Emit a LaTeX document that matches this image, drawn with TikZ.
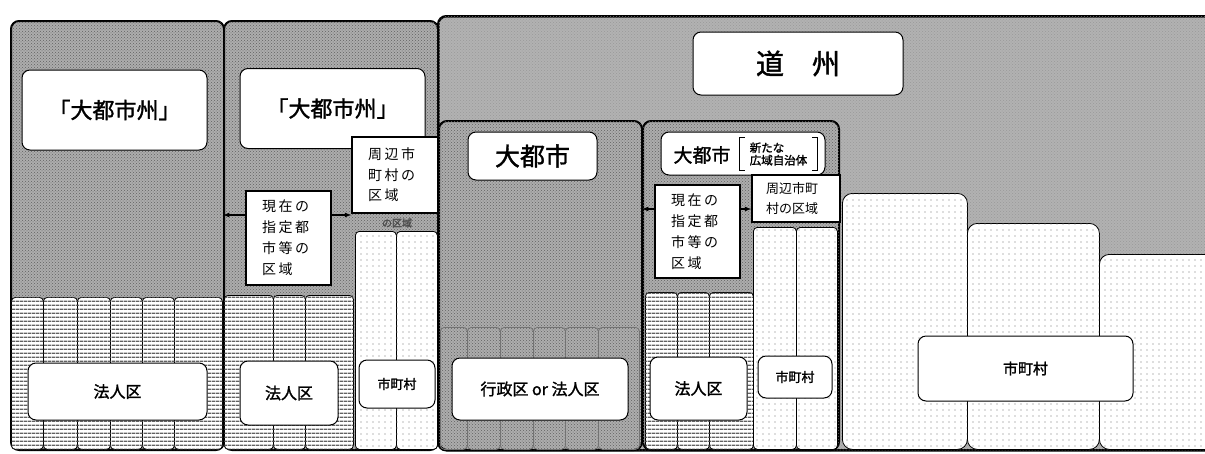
\documentclass[tikz,border=0pt]{standalone}
\usepackage{fontspec}
\newfontfamily\cjk{Noto Sans CJK JP}
\newfontfamily\cjkb[FakeBold=1.5]{Noto Sans CJK JP}
\newfontfamily\cjkl[LetterSpace=18]{Noto Sans CJK JP}
\usetikzlibrary{patterns,positioning,arrows}
\pgfdeclarepatternformonly{sparsedots}{\pgfqpoint{-1pt}{-1pt}}{\pgfqpoint{6pt}{6pt}}{\pgfqpoint{6pt}{6pt}}%
  {\pgfpathcircle{\pgfqpoint{1pt}{1pt}}{.65pt}\pgfusepath{fill}}
\pgfdeclarepatternformonly{hatchlines}{\pgfqpoint{0pt}{0pt}}{\pgfqpoint{4pt}{4pt}}{\pgfqpoint{4pt}{4pt}}%
  {\pgfpathrectangle{\pgfqpoint{0pt}{0pt}}{\pgfqpoint{4pt}{1.8pt}}\pgfusepath{fill}}
\tikzset{
region/.style={
  draw,
  line width=2pt,
  rounded corners=8pt,
  anchor=north west,
  inner sep=0pt},
doshu/.style={region, line width=2.5pt, fill=black!30, postaction={pattern=crosshatch dots, pattern color=black!40}},
toshi/.style={region, fill=black!32, postaction={pattern=crosshatch dots, pattern color=black!62}},
colbox/.style={
  draw,
  line width=.8pt,
  rounded corners=4pt,
  anchor=north west,
  inner sep=0pt,
  fill=white},
hcol/.style={colbox, postaction={pattern=hatchlines, pattern color=black!62}},
dcol/.style={colbox, postaction={pattern=sparsedots, pattern color=black!55}},
gcol/.style={draw=black!55, line width=.8pt, rounded corners=4pt, anchor=north west, inner sep=0pt},
sbox/.style={dcol, rounded corners=10pt},
namebox/.style={
  draw,
  fill=white,
  rounded corners=8pt,
  line width=1pt,
  inner sep=0pt},
notebox/.style={
  draw,
  fill=white,
  line width=1.5pt,
  inner ysep=0pt,
  inner xsep=16pt,
  align=left},
line/.style={draw, -latex, line width=1.2pt}
}
\begin{document}
\begin{tikzpicture}[x=1pt,y=-1pt]
    \useasboundingbox (0,0) rectangle (1205,453);
    \clip (0,0) rectangle (1205,453);
    % regions
    \node [doshu, minimum width=775, minimum height=434] (doshu) at (437,15) {};
    \node [toshi, minimum width=213, minimum height=429] (shu1) at (10,20) {};
    \node [toshi, minimum width=214, minimum height=429] (shu2) at (223,20) {};
    \node [toshi, minimum width=203, minimum height=329] (toshi1) at (438,120) {};
    \node [toshi, minimum width=196, minimum height=329] (toshi2) at (642,120) {};
    % wards and municipalities
    \node [hcol, minimum width=32, minimum height=152] (h1) at (11,297) {};
    \node [hcol, minimum width=34, minimum height=152] (h2) at (43,297) {};
    \node [hcol, minimum width=33, minimum height=152] (h3) at (77,297) {};
    \node [hcol, minimum width=32, minimum height=152] (h4) at (110,297) {};
    \node [hcol, minimum width=32, minimum height=152] (h5) at (142,297) {};
    \node [hcol, minimum width=48, minimum height=152] (h6) at (174,297) {};
    \node [hcol, minimum width=49, minimum height=154] (h7) at (224,295) {};
    \node [hcol, minimum width=32, minimum height=154] (h8) at (273,295) {};
    \node [hcol, minimum width=48, minimum height=154] (h9) at (305,295) {};
    \node [dcol, minimum width=41, minimum height=218] (d1) at (355,231) {};
    \node [dcol, minimum width=41, minimum height=218] (d2) at (396,231) {};
    \node [gcol, minimum width=27, minimum height=122] (g1) at (440,327) {};
    \node [gcol, minimum width=33, minimum height=122] (g2) at (467,327) {};
    \node [gcol, minimum width=33, minimum height=122] (g3) at (500,327) {};
    \node [gcol, minimum width=32, minimum height=122] (g4) at (533,327) {};
    \node [gcol, minimum width=33, minimum height=122] (g5) at (565,327) {};
    \node [gcol, minimum width=41, minimum height=122] (g6) at (598,327) {};
    \node [hcol, minimum width=32, minimum height=157] (h10) at (645,292) {};
    \node [hcol, minimum width=32, minimum height=157] (h11) at (677,292) {};
    \node [hcol, minimum width=44, minimum height=157] (h12) at (709,292) {};
    \node [dcol, minimum width=43, minimum height=222] (d3) at (753,227) {};
    \node [dcol, minimum width=41, minimum height=222] (d4) at (796,227) {};
    \node [sbox, minimum width=125, minimum height=256] (sA) at (842,193) {};
    \node [sbox, minimum width=132, minimum height=226] (sB) at (967,223) {};
    \node [sbox, minimum width=120, minimum height=195] (sC) at (1099,254) {};
    % labels
    \node [namebox, minimum width=210, minimum height=63, font=\cjkb\fontsize{28}{28}\selectfont] (ldoshu) at (798,63.5) {道　州};
    \node [namebox, minimum width=185, minimum height=80, font=\cjkb\fontsize{22}{22}\selectfont] (lshu1) at (114.5,110) {「大都市州」};
    \node [namebox, minimum width=185, minimum height=80, font=\cjkb\fontsize{22}{22}\selectfont] (lshu2) at (332.5,108.5) {「大都市州」};
    \node [namebox, minimum width=129, minimum height=48, font=\cjkb\fontsize{25}{25}\selectfont] (ltoshi1) at (532.5,156) {大都市};
    \node [namebox, minimum width=164, minimum height=43] (ltoshi2) at (743,153.5) {};
    \node [font=\cjkb\fontsize{19}{19}\selectfont] (ltoshi2a) at (702,155) {大都市};
    \node [align=left, inner xsep=4pt, inner ysep=0pt, minimum width=77, minimum height=32, font=\cjkb\fontsize{11.5}{12.5}\selectfont] (shin) at (778.5,154) {新たな\\広域自治体};
    \draw [line width=.8pt] ([xshift=5pt]shin.north west) -- (shin.north west) -- (shin.south west) -- ([xshift=5pt]shin.south west);
    \draw [line width=.8pt] ([xshift=-5pt]shin.north east) -- (shin.north east) -- (shin.south east) -- ([xshift=-5pt]shin.south east);
    \node [font=\cjkb\fontsize{10}{10}\selectfont, text=black!70] (nokuiki) at (397,223) {の区域};
    \node [notebox, minimum width=86, minimum height=76, text width=54, font=\cjkl\fontsize{14}{20.5}\selectfont] (shuhen1) at (395,175) {周辺市\\町村の\\区域};
    \node [notebox, minimum width=85, minimum height=94, text width=53, font=\cjkl\fontsize{14}{21}\selectfont] (genzai1) at (288.5,238) {現在の\\指定都\\市等の\\区域};
    \node [notebox, minimum width=88, minimum height=47, inner xsep=14pt, text width=60, font=\cjk\fontsize{13}{20}\selectfont] (shuhen2) at (796,198.5) {周辺市町\\村の区域};
    \node [notebox, minimum width=85, minimum height=93, text width=53, font=\cjkl\fontsize{14}{21}\selectfont] (genzai2) at (697.5,231.5) {現在の\\指定都\\市等の\\区域};
    \node [namebox, minimum width=179, minimum height=57, font=\cjkb\fontsize{16}{16}\selectfont] (hojin1) at (117.5,391.5) {法人区};
    \node [namebox, minimum width=98, minimum height=64, font=\cjkb\fontsize{16}{16}\selectfont] (hojin2) at (289,393) {法人区};
    \node [namebox, minimum width=76, minimum height=48, font=\cjkb\fontsize{13}{13}\selectfont] (son1) at (397,384) {市町村};
    \node [namebox, minimum width=176, minimum height=62, font=\cjkb\fontsize{16}{16}\selectfont] (gyosei) at (540,389) {行政区 or 法人区};
    \node [namebox, minimum width=97, minimum height=63, font=\cjkb\fontsize{16}{16}\selectfont] (hojin3) at (698.5,388.5) {法人区};
    \node [namebox, minimum width=74, minimum height=42, font=\cjkb\fontsize{13}{13}\selectfont] (son2) at (795,377) {市町村};
    \node [namebox, minimum width=215, minimum height=65, font=\cjkb\fontsize{15}{15}\selectfont] (son3) at (1025.5,368.5) {市町村};
    % arrows
    \coordinate (a1) at ([yshift=23pt]genzai1.west);
    \coordinate (a2) at ([yshift=23pt]genzai1.east);
    \coordinate (a3) at ([yshift=22.5pt]genzai2.west);
    \coordinate (a4) at ([yshift=22.5pt]genzai2.east);
    \path [line] (a1) -- (a1 -| shu2.west);
    \path [line] (a2) -- (a2 -| shuhen1.west);
    \path [line] (a3) -- (a3 -| toshi2.west);
    \path [line] (a4) -- (a4 -| shuhen2.west);
\end{tikzpicture}
\end{document}
